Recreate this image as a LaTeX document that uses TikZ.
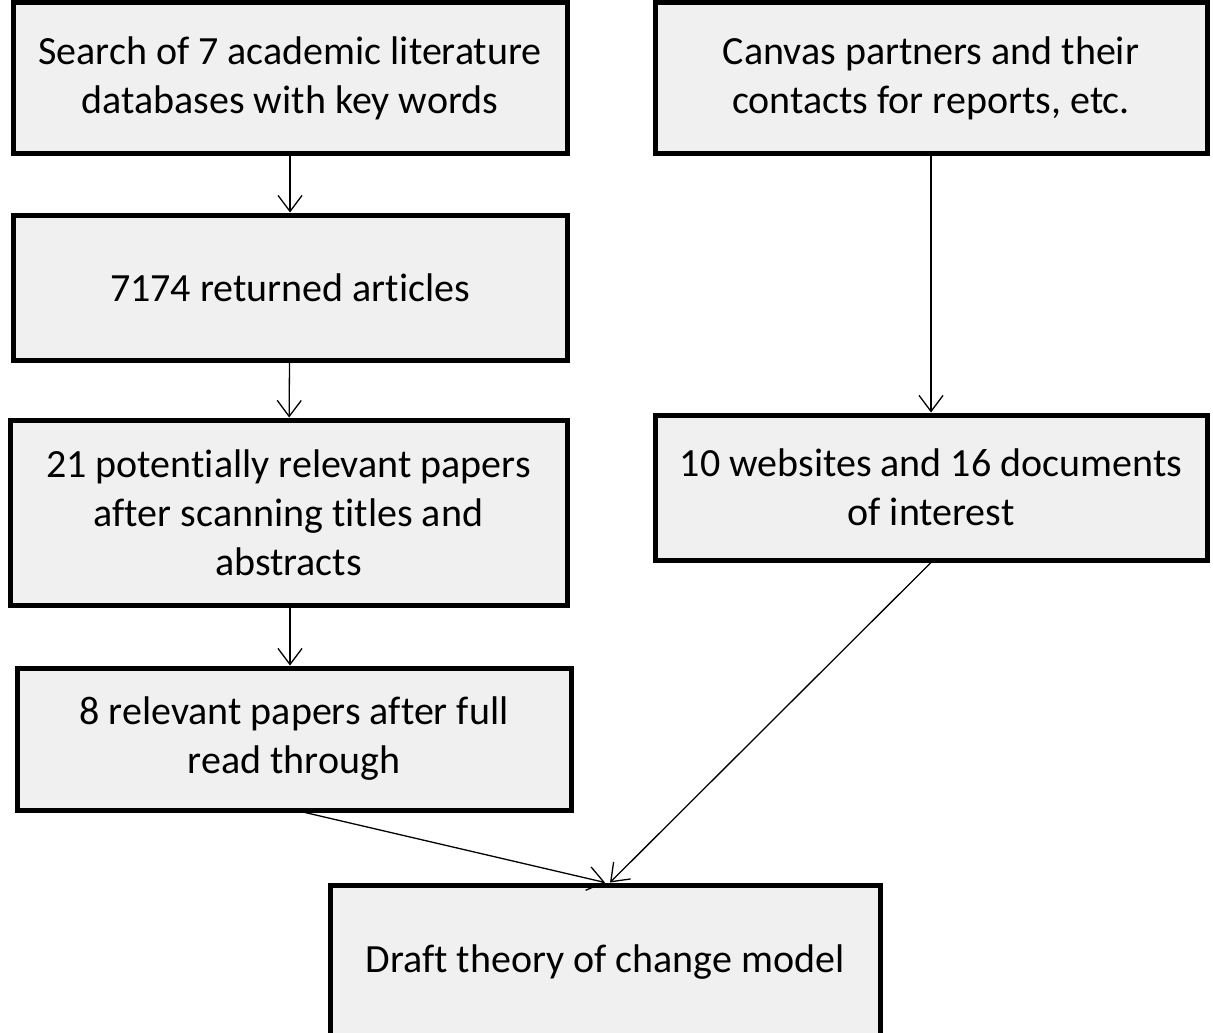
\documentclass[tikz,border=0pt]{standalone}
\usepackage{fontspec}
\setmainfont{Carlito}[Ligatures={NoCommon}]
\usetikzlibrary{arrows.meta,calc}
\tikzstyle{graybox}=[draw, line width=5, fill={rgb,255:red,240;green,240;blue,240}, align=center, inner sep=0, font=\fontsize{40}{49}\selectfont]
\tikzstyle{flowline}=[line width=1.3, -{Straight Barb[length=16, width=24, line width=1.3]}]

\begin{document}
\begin{tikzpicture}[x=1pt, y=-1pt]
  \useasboundingbox[fill=white] (0,0) rectangle (1213,1033);
  \node[graybox, minimum width=554, minimum height=150] (search) at (290,78) {Search of 7 academic literature\\databases with key words};
  \node[graybox, minimum width=554, minimum height=145] (returned) at (290,287.5) {7174 returned articles};
  \node[graybox, minimum width=557, minimum height=185] (potential) at (288.5,512.5) {21 potentially relevant papers\\after scanning titles and\\abstracts};
  \node[graybox, minimum width=554, minimum height=142] (relevant) at (294,739) {8 relevant papers after full\\read through};
  \node[graybox, minimum width=552, minimum height=150] (canvas) at (931,78) {Canvas partners and their\\contacts for reports, etc.};
  \node[graybox, minimum width=552, minimum height=145] (websites) at (931,487.5) {10 websites and 16 documents\\of interest};
  \node[graybox, minimum width=550, minimum height=154] (draft) at (605,962) {Draft theory of change model};
  \draw[flowline] (search) -- (returned);
  \draw[flowline] (returned) -- (potential);
  \draw[flowline] (potential.south -| returned.south) -- (relevant.north -| returned.south);
  \draw[flowline] (canvas) -- (websites);
  \draw[flowline] ($(relevant.south)+(11,0)$) -- ($(draft.north)+(0,0)$);
  \draw[flowline] (websites.south) -- ($(draft.north)+(5,0)$);
\end{tikzpicture}
\end{document}
